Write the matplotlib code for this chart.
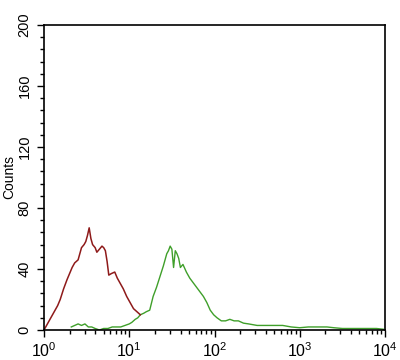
import numpy as np
import matplotlib
matplotlib.use("Agg")
import matplotlib.pyplot as plt
from matplotlib.ticker import LogLocator, MultipleLocator

plt.rcParams['font.family'] = ['Liberation Sans', 'DejaVu Sans']
plt.rcParams['mathtext.fontset'] = 'custom'
plt.rcParams['mathtext.rm'] = 'Liberation Sans'
plt.rcParams['mathtext.it'] = 'Liberation Sans'

# Fluorescence position in decades (log10 of intensity)
red_decade = [0.0, 0.03, 0.07, 0.12, 0.16, 0.19, 0.23, 0.27, 0.30, 0.33, 0.36, 0.40,
              0.44, 0.47, 0.49, 0.51, 0.53, 0.55, 0.57, 0.60, 0.62, 0.65, 0.68, 0.70,
              0.72, 0.74, 0.76, 0.79, 0.83, 0.86, 0.89, 0.93, 0.97, 1.01, 1.05, 1.09, 1.13]
red_counts = [0, 3, 7, 12, 16, 20, 27, 33, 37, 41, 44, 46,
              54, 56, 58, 62, 67, 60, 56, 54, 51, 53, 55, 54,
              52, 45, 36, 37, 38, 34, 31, 27, 22, 18, 14, 12, 10]

green_decade = [0.32, 0.36, 0.40, 0.44, 0.48, 0.52, 0.56, 0.60, 0.65, 0.70, 0.75, 0.80,
                0.85, 0.90, 0.95, 1.00, 1.03, 1.07, 1.10, 1.13, 1.17, 1.20, 1.24, 1.28,
                1.32, 1.36, 1.40, 1.44, 1.46, 1.48, 1.50, 1.52, 1.54, 1.56, 1.58, 1.60,
                1.63, 1.67, 1.71, 1.75, 1.79, 1.83, 1.87, 1.91, 1.95, 1.99, 2.03, 2.08,
                2.13, 2.18, 2.23, 2.28, 2.34, 2.40, 2.50, 2.60, 2.70, 2.80, 2.90, 3.00,
                3.10, 3.20, 3.32, 3.40, 3.50, 3.59, 3.70, 3.80, 3.90, 3.98]
green_counts = [2, 3, 4, 3, 4, 2, 2, 1, 0, 1, 1, 2,
                2, 2, 3, 4, 5, 7, 8, 10, 11, 12, 13, 22,
                28, 35, 42, 50, 52, 55, 53, 41, 52, 50, 47, 41,
                43, 38, 34, 31, 28, 25, 22, 18, 13, 10, 8, 6,
                6, 7, 6, 6, 4.5, 4, 3, 3, 3, 3, 2, 1.5,
                2, 2, 2, 1.5, 1, 1, 1, 1, 1, 0.5]

y_ticks = [0, 40, 80, 120, 160, 200]
x_ticks = [1, 10, 100, 1000, 10000]
x_labels = [r'$10^0$', r'$10^1$', r'$10^2$', r'$10^3$', r'$10^4$']

fig = plt.figure(figsize=(4, 3.6), dpi=100)
ax = fig.add_axes([0.11, 0.0833, 0.8525, 0.8473])

ax.plot(np.power(10.0, green_decade), green_counts, color='#3f9f2a', lw=1.0)
ax.plot(np.power(10.0, red_decade), red_counts, color='#8e1a1a', lw=1.1)

ax.set_xscale('log')
ax.set_xlim(1, 10000)
ax.set_ylim(0, 200)
ax.set_xticks(x_ticks)
ax.set_xticklabels(x_labels, fontsize=11.5)
ax.xaxis.set_minor_locator(LogLocator(base=10, subs=np.arange(2, 10)))
ax.xaxis.set_minor_formatter(plt.NullFormatter())
ax.set_yticks(y_ticks)
ax.set_yticklabels([str(v) for v in y_ticks], fontsize=10.5, rotation=90, va='center')
ax.yaxis.set_minor_locator(MultipleLocator(8))

ax.tick_params(which='major', direction='out', length=5, width=1.0)
ax.tick_params(axis='y', which='major', pad=4)
ax.tick_params(axis='x', which='major', pad=3)
ax.tick_params(which='minor', direction='out', length=3, width=1.0)
ax.set_ylabel('Counts', fontsize=10, labelpad=1)
for s in ax.spines.values():
    s.set_linewidth(1.2)

fig.savefig('out.png', dpi=100)
